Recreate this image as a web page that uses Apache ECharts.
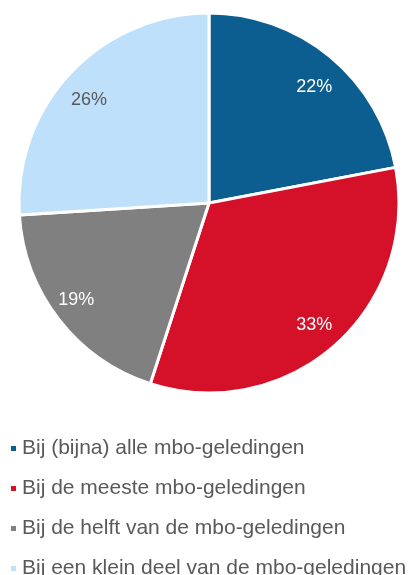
<!DOCTYPE html>
<html>
<head>
<meta charset="utf-8">
<script src="https://cdn.jsdelivr.net/npm/echarts@6/dist/echarts.min.js"></script>
<style>
html, body { margin: 0; padding: 0; background: #fff; }
#chart { width: 414px; height: 575px; }
</style>
</head>
<body>
<div id="chart"></div>
<script>
// categorieen en waarden
var categories = [
  'Bij (bijna) alle mbo-geledingen',
  'Bij de meeste mbo-geledingen',
  'Bij de helft van de mbo-geledingen',
  'Bij een klein deel van de mbo-geledingen'
];
var values = [22, 33, 19, 26];

// opmaak
var colors = ['#0b5e8f', '#d5112a', '#808080', '#bee0fb'];
var labelColors = ['#ffffff', '#ffffff', '#ffffff', '#595959'];
var labelNudge = [[4, 7], [0, 3], [-7, 0], [-4, 6]];

var pieData = categories.map(function (name, i) {
  return { name: name, value: values[i], itemStyle: { color: colors[i] } };
});
var labelData = categories.map(function (name, i) {
  return { name: name, value: values[i], label: { color: labelColors[i], offset: labelNudge[i] } };
});

var chart = echarts.init(document.getElementById('chart'));
chart.setOption({
  animation: false,
  legend: {
    orient: 'vertical',
    left: 9,
    top: 438,
    height: 220,
    padding: 0,
    icon: 'rect',
    itemWidth: 7,
    itemHeight: 7,
    itemGap: 19,
    data: categories,
    textStyle: { fontFamily: 'Liberation Sans', fontSize: 21, color: '#595959' }
  },
  series: [
    {
      type: 'pie',
      center: [209, 203],
      radius: [0, 190],
      startAngle: 90,
      clockwise: true,
      data: pieData,
      itemStyle: { borderColor: '#ffffff', borderWidth: 3 },
      label: { show: false },
      labelLine: { show: false },
      emphasis: { disabled: true }
    },
    {
      // alleen voor de labels
      type: 'pie',
      center: [209, 203],
      radius: [122, 190],
      startAngle: 90,
      clockwise: true,
      silent: true,
      data: labelData,
      itemStyle: { color: 'rgba(0,0,0,0)' },
      label: {
        show: true,
        position: 'inside',
        formatter: '{c}%',
        fontFamily: 'Liberation Sans',
        fontSize: 18
      },
      labelLine: { show: false },
      emphasis: { disabled: true }
    }
  ]
});
</script>
</body>
</html>
